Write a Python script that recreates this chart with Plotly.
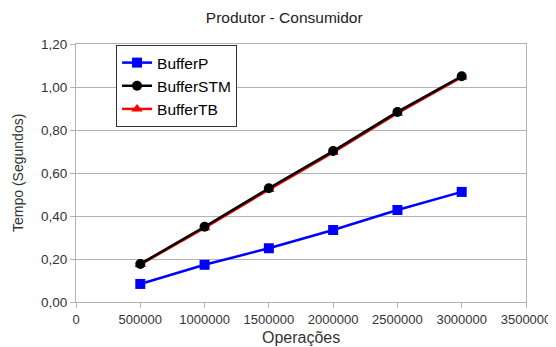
import plotly.graph_objects as go

operacoes = [500000, 1000000, 1500000, 2000000, 2500000, 3000000]
buffer_p = [0.084, 0.173, 0.250, 0.335, 0.428, 0.512]
buffer_stm = [0.177, 0.350, 0.529, 0.702, 0.884, 1.050]
buffer_tb = [0.174, 0.345, 0.523, 0.696, 0.878, 1.046]

font_family = "Liberation Sans, Arial, sans-serif"

fig = go.Figure()
fig.add_trace(go.Scatter(x=operacoes, y=buffer_p, name="BufferP", mode="lines+markers",
                         line=dict(color="#0000ff", width=2.5),
                         marker=dict(symbol="square", size=10, color="#0000ff"), legendrank=1))
fig.add_trace(go.Scatter(x=operacoes, y=buffer_tb, name="BufferTB", mode="lines+markers",
                         line=dict(color="#ff0000", width=2.5),
                         marker=dict(symbol="triangle-up", size=10, color="#ff0000"), legendrank=3))
fig.add_trace(go.Scatter(x=operacoes, y=buffer_stm, name="BufferSTM", mode="lines+markers",
                         line=dict(color="#000000", width=2.5),
                         marker=dict(symbol="circle", size=10, color="#000000"), legendrank=2))

fig.update_layout(
    width=548, height=339,
    margin=dict(l=68, r=30, t=36, b=45, autoexpand=False),
    paper_bgcolor="white", plot_bgcolor="white",
    separators=",.",
    font=dict(family=font_family, color="#333333", size=13),
    title=dict(text="Produtor - Consumidor", x=0.4628, xanchor="center", y=1 - 10 / 339, yanchor="middle",
               xref="paper", font=dict(size=15.5, color="#222222")),
    xaxis=dict(range=[0, 3500000], tickvals=[0, 500000, 1000000, 1500000, 2000000, 2500000, 3000000, 3500000],
               tickformat="d", showgrid=False, zeroline=False, showline=True, linecolor="#b3b3b3",
               mirror=True, ticks="outside", ticklen=5, tickcolor="#b3b3b3", automargin=False,
               ticklabeloverflow="allow", tickfont=dict(size=13)),
    yaxis=dict(range=[0, 1.2], dtick=0.2, tickformat=".2f", showgrid=True, gridcolor="#b3b3b3",
               zeroline=False, showline=True, linecolor="#b3b3b3", mirror=True, automargin=False,
               ticks="outside", ticklen=5, tickcolor="#b3b3b3",
               tickfont=dict(size=13.5)),
    legend=dict(x=0.089, y=0.996, xanchor="left", yanchor="top", bgcolor="white",
                bordercolor="#333333", borderwidth=1, font=dict(size=15.5, color="#000000"),
                tracegroupgap=0, itemwidth=30),
    showlegend=True,
    annotations=[
        dict(text="Operações", xref="paper", yref="paper", x=0.5, y=-0.1395,
             xanchor="center", yanchor="middle", showarrow=False,
             font=dict(size=16, color="#333333")),
        dict(text="Tempo (Segundos)", xref="paper", yref="paper", x=-0.129, y=0.5,
             xanchor="center", yanchor="middle", showarrow=False, textangle=-90,
             font=dict(size=14, color="#333333")),
    ],
)

fig.write_html("out.html")
